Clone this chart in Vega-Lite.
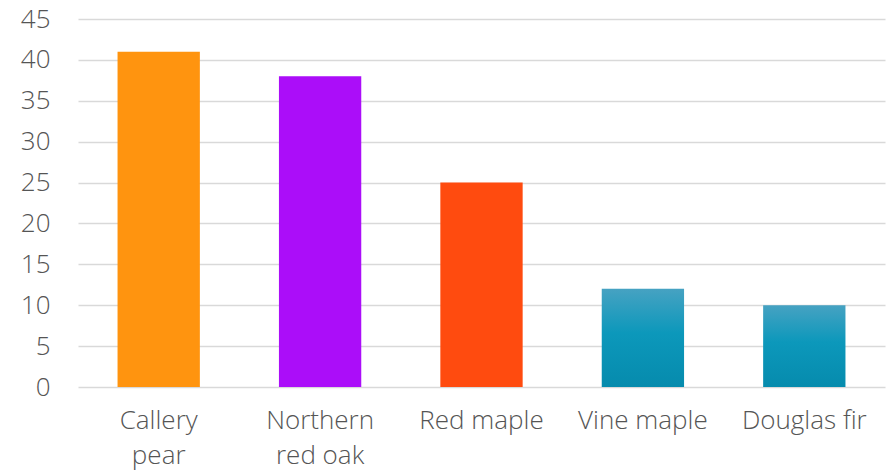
{
  "$schema": "https://vega.github.io/schema/vega-lite/v6.json",
  "width": 807,
  "height": 368,
  "autosize": {"type": "none"},
  "padding": {"left": 78, "top": 19, "right": 8, "bottom": 88},
  "background": "white",
  "data": {"values": [
    {"tree": "Callery pear", "count": 41, "kind": "solid"},
    {"tree": "Northern red oak", "count": 38, "kind": "solid"},
    {"tree": "Red maple", "count": 25, "kind": "solid"},
    {"tree": "Vine maple", "count": 12, "kind": "gradient"},
    {"tree": "Douglas fir", "count": 10, "kind": "gradient"}
  ]},
  "config": {
    "view": {"stroke": null},
    "font": "Open Sans"
  },
  "encoding": {
    "x": {
      "field": "tree", "type": "nominal", "sort": null,
      "scale": {"paddingInner": 0.49, "paddingOuter": 0.245},
      "axis": {
        "title": null, "domain": false, "ticks": false, "labelAngle": 0,
        "labelFontSize": 26, "labelFontWeight": 300, "labelColor": "#555555", "labelPadding": 20,
        "labelLineHeight": 35, "labelBaseline": "top",
        "labelExpr": "datum.label == 'Callery pear' ? ['Callery', 'pear'] : datum.label == 'Northern red oak' ? ['Northern', 'red oak'] : datum.label"
      }
    },
    "y": {
      "field": "count", "type": "quantitative",
      "scale": {"domain": [0, 45], "nice": false},
      "axis": {
        "title": null, "domain": false, "ticks": false, "values": [0,5,10,15,20,25,30,35,40,45],
        "labelFontSize": 26, "labelFontWeight": 300, "labelColor": "#555555", "labelPadding": 28,
        "gridColor": "#d9d9d9", "gridWidth": 1.5
      }
    }
  },
  "layer": [
    {
      "transform": [{"filter": "datum.kind == 'solid'"}],
      "mark": {"type": "bar"},
      "encoding": {
        "color": {
          "field": "tree", "type": "nominal", "legend": null,
          "scale": {"domain": ["Callery pear", "Northern red oak", "Red maple"], "range": ["#FF940F", "#AB0DF9", "#FF4B0F"]}
        }
      }
    },
    {
      "transform": [{"filter": "datum.kind == 'gradient'"}],
      "mark": {
        "type": "bar",
        "color": {
          "gradient": "linear", "x1": 0, "y1": 0, "x2": 0, "y2": 1,
          "stops": [
            {"offset": 0, "color": "#46A2C2"},
            {"offset": 0.45, "color": "#0C98BB"},
            {"offset": 1, "color": "#068BAD"}
          ]
        }
      }
    }
  ]
}
